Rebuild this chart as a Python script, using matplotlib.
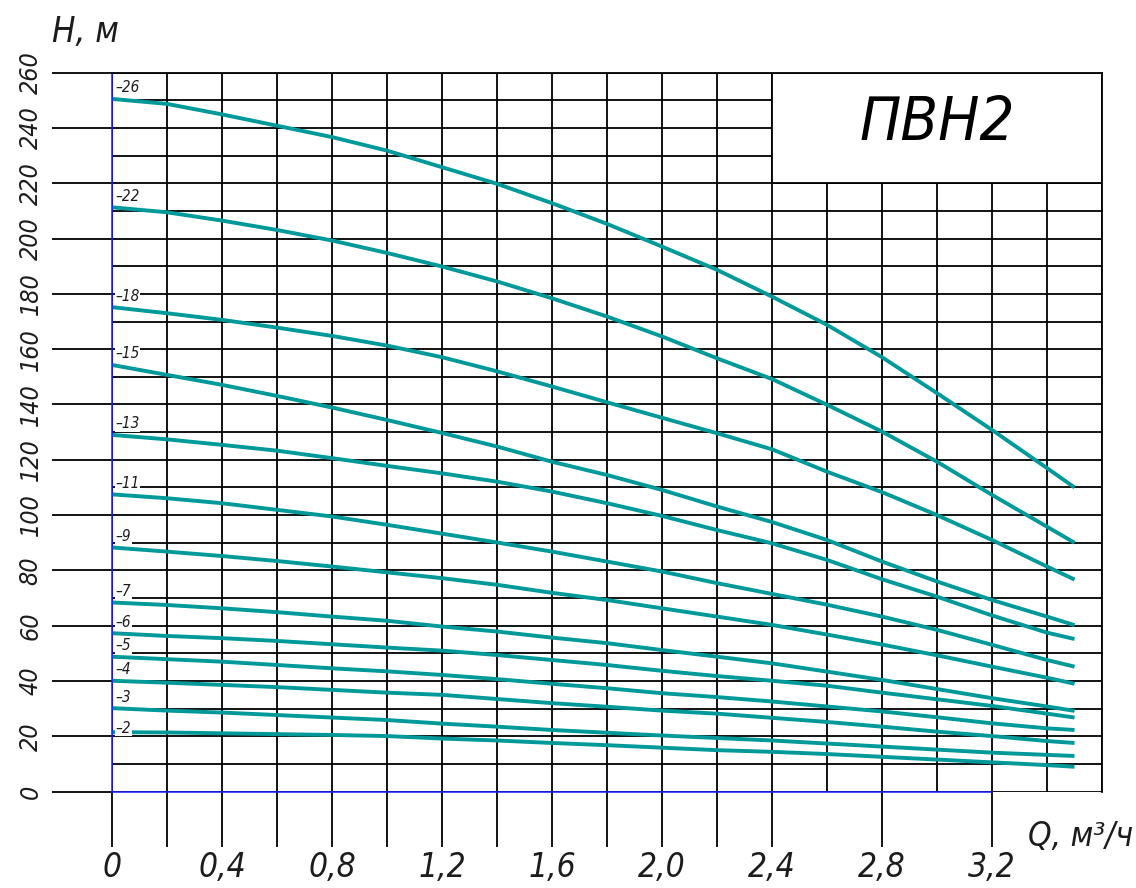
import numpy as np
import matplotlib
matplotlib.use('Agg')
import matplotlib.pyplot as plt
from matplotlib.patches import Rectangle

# подача, м3/ч
q = [0, 0.2, 0.4, 0.6, 0.8, 1.0, 1.2, 1.4, 1.6, 1.8, 2.0,
     2.2, 2.4, 2.6, 2.8, 3.0, 3.2, 3.4, 3.5]

# напор по числу ступеней, м
h26 = [250.5, 248.7, 244.9, 240.8, 236.7, 231.8, 225.8, 219.8, 212.8, 205.3,
       197.1, 188.7, 179.0, 168.8, 157.1, 144.1, 130.8, 117.0, 110.0]
h22 = [211.3, 209.5, 206.5, 203.1, 199.3, 194.8, 189.9, 184.5, 178.4, 171.8,
       164.6, 156.7, 149.2, 139.9, 130.2, 119.3, 107.3, 95.8, 90.0]
h18 = [175.2, 173.0, 170.6, 167.8, 164.8, 161.3, 157.1, 152.0, 146.5, 140.8,
       135.2, 129.6, 123.8, 115.7, 108.3, 100.0, 91.0, 81.4, 76.7]
h15 = [154.3, 150.7, 147.1, 143.1, 138.9, 134.4, 129.7, 124.8, 119.3, 114.5,
       109.1, 103.1, 97.5, 91.0, 83.2, 76.0, 69.3, 63.3, 60.2]
h13 = [129.0, 127.4, 125.4, 123.3, 120.6, 117.8, 115.1, 112.1, 108.5, 104.3,
       99.7, 94.6, 89.8, 83.8, 76.8, 70.5, 63.7, 57.5, 55.2]
h11 = [107.5, 106.1, 104.3, 101.9, 99.5, 96.5, 93.3, 90.1, 86.8, 83.2,
       79.6, 75.4, 71.5, 67.6, 63.3, 58.5, 53.1, 47.6, 45.2]
h9 = [88.3, 86.8, 85.2, 83.4, 81.4, 79.3, 77.2, 74.8, 71.9, 69.3,
      66.3, 63.3, 60.3, 56.8, 53.2, 49.3, 45.2, 41.2, 39.0]
h7 = [68.4, 67.5, 66.3, 64.9, 63.3, 61.8, 59.7, 57.9, 55.7, 53.7,
      51.2, 48.8, 46.4, 43.4, 40.4, 37.1, 33.8, 30.8, 29.2]
h6 = [57.3, 56.3, 55.5, 54.5, 53.3, 52.1, 51.0, 49.4, 47.6, 45.8,
      43.7, 41.8, 40.1, 38.3, 35.8, 33.4, 31.0, 28.2, 26.8]
h5 = [48.8, 47.9, 47.0, 45.8, 44.6, 43.5, 42.2, 40.7, 39.0, 37.4,
      35.6, 34.2, 32.6, 30.8, 29.0, 26.9, 24.7, 22.9, 22.3]
h4 = [40.1, 39.4, 38.6, 37.8, 36.8, 35.8, 35.0, 33.5, 32.0, 30.7,
      29.3, 28.2, 26.7, 25.2, 23.5, 21.7, 20.1, 18.3, 17.6]
h3 = [30.2, 29.3, 28.6, 27.7, 26.8, 25.9, 24.6, 23.5, 22.3, 21.3,
      20.3, 19.4, 18.5, 17.4, 16.3, 15.2, 14.1, 13.3, 12.9]
h2 = [21.5, 21.4, 21.1, 20.8, 20.5, 20.1, 19.2, 18.5, 17.6, 16.8,
      15.9, 15.0, 14.4, 13.6, 12.6, 11.6, 10.6, 9.6, 9.0]

stages = [26, 22, 18, 15, 13, 11, 9, 7, 6, 5, 4, 3, 2]
heads = [h26, h22, h18, h15, h13, h11, h9, h7, h6, h5, h4, h3, h2]

x_ticks = [0, 0.2, 0.4, 0.6, 0.8, 1.0, 1.2, 1.4, 1.6, 1.8, 2.0, 2.2, 2.4, 2.8, 3.2]
x_labels = ['0', '', '0,4', '', '0,8', '', '1,2', '', '1,6', '', '2,0', '', '2,4', '2,8', '3,2']
y_ticks = list(range(0, 261, 20))

plt.rcParams['font.family'] = ['Liberation Sans Narrow', 'DejaVu Sans']
plt.rcParams['font.style'] = 'italic'
plt.rcParams['font.stretch'] = 'condensed'
TXT = '#1c1c1c'
TEAL = '#00999a'

fig = plt.figure(figsize=(11.36, 8.88), dpi=100)
ax = fig.add_axes([0.0986, 0.1085, 0.8715, 0.8097])
ax.set_xlim(0, 3.6)
ax.set_ylim(0, 260)

# сетка 0.2 x 10
ax.set_xticks(x_ticks, labels=x_labels)
ax.set_xticks(np.round(np.arange(19) * 0.2, 1), minor=True)
ax.set_yticks(y_ticks, labels=[str(v) for v in y_ticks])
ax.set_yticks(np.arange(10, 260, 20), minor=True)
ax.set_axisbelow(True)
ax.grid(which='both', color='black', lw=1.3)

ax.tick_params(which='minor', length=0)
ax.tick_params(axis='x', which='major', length=39.6, width=1.3, color='black',
               pad=3, labelsize=24, labelcolor=TXT)
ax.tick_params(axis='y', which='major', length=43, width=1.3, color='black',
               pad=7, labelsize=18, labelcolor=TXT, labelrotation=90)
for lab in ax.get_yticklabels():
    lab.set_va('center')
    lab.set_ha('right')

for s in ['top', 'right']:
    ax.spines[s].set_color('black')
    ax.spines[s].set_linewidth(1.3)
ax.spines['left'].set_color('#1a1aff')
ax.spines['left'].set_linewidth(1.1)
ax.spines['bottom'].set_color('#1a1aff')
ax.spines['bottom'].set_linewidth(1.1)
ax.spines['bottom'].set_bounds(0, 3.2)
for s in ax.spines.values():
    s.set_zorder(2.5)

# табличка с названием
ax.add_patch(Rectangle((2.4, 220), 1.2, 40, facecolor='white', edgecolor='black',
                       lw=1.3, zorder=1.5))
ax.text(3.0, 241.5, 'ПВН2', fontsize=44, color='black', ha='center', va='center', zorder=3)

for n, h in zip(stages, heads):
    ax.plot(q, h, color=TEAL, lw=2.8, zorder=2, solid_capstyle='butt')
    dy = 1.5 if n == 2 else 4
    ax.text(0.012, h[0] + dy, '–' + str(n), fontsize=11, color=TXT, ha='left', va='center',
            zorder=3, bbox=dict(facecolor='white', edgecolor='none', pad=0.6))

fig.text(0.046, 0.953, 'H, м', fontsize=25, color=TXT, ha='left', va='baseline')
fig.text(0.905, 0.047, 'Q, м³/ч', fontsize=24, color=TXT, ha='left', va='baseline')

fig.savefig('out.png', dpi=100)
